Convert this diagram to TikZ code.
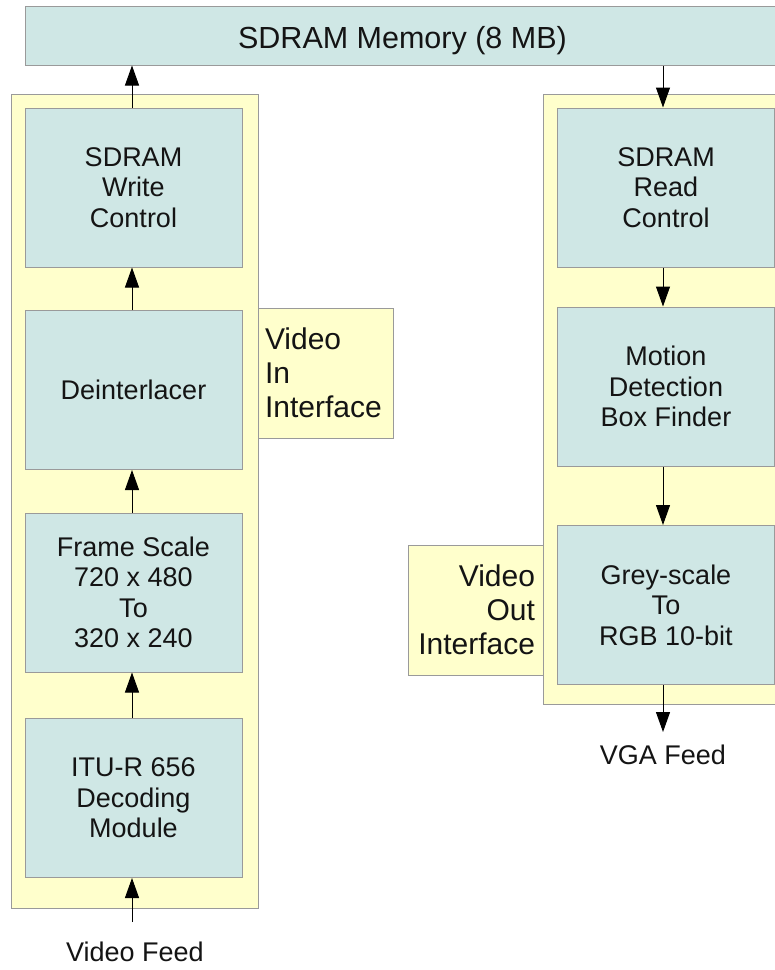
\documentclass[tikz,border=0pt]{standalone}
\usepackage{fontspec}
\setmainfont{Liberation Sans}
\usetikzlibrary{arrows.meta}
\definecolor{boxblue}{HTML}{CFE7E5}
\definecolor{paneyellow}{HTML}{FFFFCC}
\definecolor{edgegray}{HTML}{9A9A9A}
\definecolor{inkdark}{HTML}{141414}

\tikzset{
  block/.style={draw=edgegray, line width=1pt, fill=boxblue, text=inkdark,
    minimum width=217pt, minimum height=159pt, inner sep=0pt, align=center,
    font=\fontsize{27}{30.5}\selectfont},
  pane/.style={draw=edgegray, line width=1pt, fill=paneyellow, inner sep=0pt},
  iface/.style={draw=edgegray, line width=1pt, fill=paneyellow, text=inkdark,
    minimum height=130pt, font=\fontsize{30}{34}\selectfont},
  feedlabel/.style={text=inkdark, inner sep=0pt, font=\fontsize{27}{30}\selectfont},
  flow/.style={draw=black, line width=1pt, -{Triangle[width=14pt,length=20pt]}}
}

\begin{document}
\begin{tikzpicture}[x=1pt,y=-1pt]
\useasboundingbox (0,0) rectangle (775,970);
\clip (0,0) rectangle (775,970);

% shared memory
\node[block, minimum width=755pt, minimum height=59pt, text height=25pt, text depth=0pt,
      font=\fontsize{30.5}{34}\selectfont] (mem) at (402.5,35.5)
  {SDRAM Memory (8 MB)};

% interface panels
\node[pane, minimum width=247pt, minimum height=814pt] (lpane) at (134.5,501) {};
\node[pane, minimum width=247pt, minimum height=610pt] (rpane) at (666.5,399) {};

\node[iface, text width=121pt, inner xsep=7pt, align=left] (vin) at (325.5,373)
  {Video\\In\\Interface};
\node[iface, text width=119pt, inner xsep=8pt, align=right] (vout) at (475.5,610)
  {Video\\Out\\Interface};

% video in chain
\node[block] (wr)  at (133.5,187.5) {SDRAM\\Write\\Control};
\node[block] (dei) at (133.5,390)   {Deinterlacer};
\node[block] (fs)  at (133.5,592.5) {Frame Scale\\720 x 480\\To\\320 x 240};
\node[block] (itu) at (133.5,798)   {ITU-R 656\\Decoding\\Module};

% video out chain
\node[block] (rd)  at (666,187.5) {SDRAM\\Read\\Control};
\node[block] (md)  at (666,386.5) {Motion\\Detection\\Box Finder};
\node[block] (gs)  at (666,605)   {Grey-scale\\To\\RGB 10-bit};

% external feeds
\node[feedlabel] (vfeed) at (135,952) {Video Feed};
\node[feedlabel] (vga)   at (663,755) {VGA Feed};
\coordinate (vfeedtop) at (132,922);
\coordinate (vgaend)   at (663,732);

% data flow
\draw[flow] (vfeedtop) -- (vfeedtop |- itu.south);
\draw[flow] (itu.north -| vfeedtop) -- (fs.south -| vfeedtop);
\draw[flow] (fs.north -| vfeedtop)  -- (dei.south -| vfeedtop);
\draw[flow] (dei.north -| vfeedtop) -- (wr.south -| vfeedtop);
\draw[flow] (wr.north -| vfeedtop)  -- (mem.south -| vfeedtop);

\draw[flow] (mem.south -| vgaend) -- (rd.north -| vgaend);
\draw[flow] (rd.south -| vgaend)  -- (md.north -| vgaend);
\draw[flow] (md.south -| vgaend)  -- (gs.north -| vgaend);
\draw[flow] (gs.south -| vgaend)  -- (vgaend);
\end{tikzpicture}
\end{document}
